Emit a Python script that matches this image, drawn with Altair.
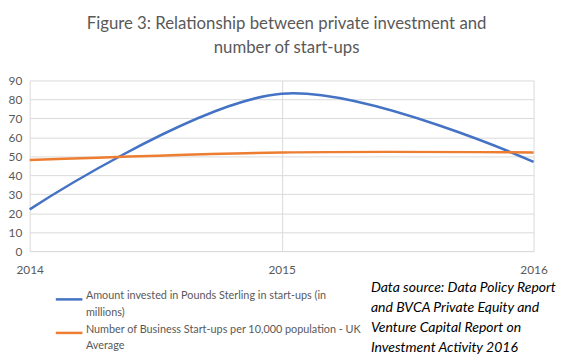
import altair as alt
import pandas as pd
import json

years = [2014, 2015, 2016]
invested = [22, 83, 47]
startups = [48, 52, 52]
series_names = [
    "Amount invested in Pounds Sterling in start-ups (in millions)",
    "Number of Business Start-ups per 10,000 population - UK Average",
]
legend_lines = [
    ["Amount invested in Pounds Sterling in start-ups (in", "millions)"],
    ["Number of Business Start-ups per 10,000 population - UK", "Average"],
]
colors = ["#4472C4", "#ED7D31"]
title_lines = ["Figure 3: Relationship between private investment and", "number of start-ups"]
note_lines = [
    "Data source: Data Policy Report",
    "and BVCA Private Equity and",
    "Venture Capital Report on",
    "Investment Activity 2016",
]

rows = []
for y, a, b in zip(years, invested, startups):
    rows.append({"year": y, "value": a, "series": series_names[0]})
    rows.append({"year": y, "value": b, "series": series_names[1]})
df = pd.DataFrame(rows)

label_expr = (
    f"datum.label == {json.dumps(series_names[0])} ? {json.dumps(legend_lines[0])} : {json.dumps(legend_lines[1])}"
)

FONT = "Lato"
GREY = "#595959"

lines = alt.Chart(df).mark_line(interpolate="catmull-rom", strokeWidth=2.5).encode(
    x=alt.X("year:Q", scale=alt.Scale(domain=[years[0], years[-1]], nice=False, zero=False),
            axis=alt.Axis(tickCount=len(years) - 1, format="d", title=None, grid=True, gridColor="#d9d9d9",
                          domain=True, domainColor="#d9d9d9", ticks=False, labelPadding=14,
                          labelOverlap=False, labelFlush=False,
                          labelFont=FONT, labelFontSize=12, labelColor=GREY)),
    y=alt.Y("value:Q", scale=alt.Scale(domain=[0, 90], nice=False),
            axis=alt.Axis(values=list(range(0, 100, 10)), title=None, grid=True, gridColor="#d9d9d9",
                          domain=False, ticks=False, labelPadding=8, labelOverlap=False,
                          labelFont=FONT, labelFontSize=12, labelColor=GREY)),
    color=alt.Color("series:N", scale=alt.Scale(domain=series_names, range=colors),
                    legend=alt.Legend(title=None, orient="none", legendX=25, legendY=207,
                                      labelExpr=label_expr, labelLimit=400, labelFont=FONT,
                                      labelFontSize=11, labelColor=GREY, labelBaseline="alphabetic",
                                      symbolType="stroke", symbolSize=729, symbolStrokeWidth=2.5,
                                      rowPadding=0, padding=0, labelOffset=2)),
)

note = alt.Chart(pd.DataFrame({"t": [note_lines]})).mark_text(
    align="left", baseline="top", font=FONT, fontSize=14.2, fontStyle="italic",
    lineHeight=20, color="#000000"
).encode(text="t", x=alt.value(346), y=alt.value(204))

chart = alt.layer(lines, note).properties(
    width=511, height=173,
    title=alt.TitleParams(text=title_lines, anchor="middle", dx=5, fontSize=17, font=FONT,
                          fontWeight="normal", color=GREY, lineHeight=24, offset=18),
    autosize=alt.AutoSizeParams(type="none"),
    padding={"left": 22, "top": 71, "right": 42, "bottom": 110},
).configure(style={"guide-label": {"lineHeight": 16.5}}, view={"stroke": None})

chart.save("out.html", embed_options={"renderer": "svg", "actions": False})
